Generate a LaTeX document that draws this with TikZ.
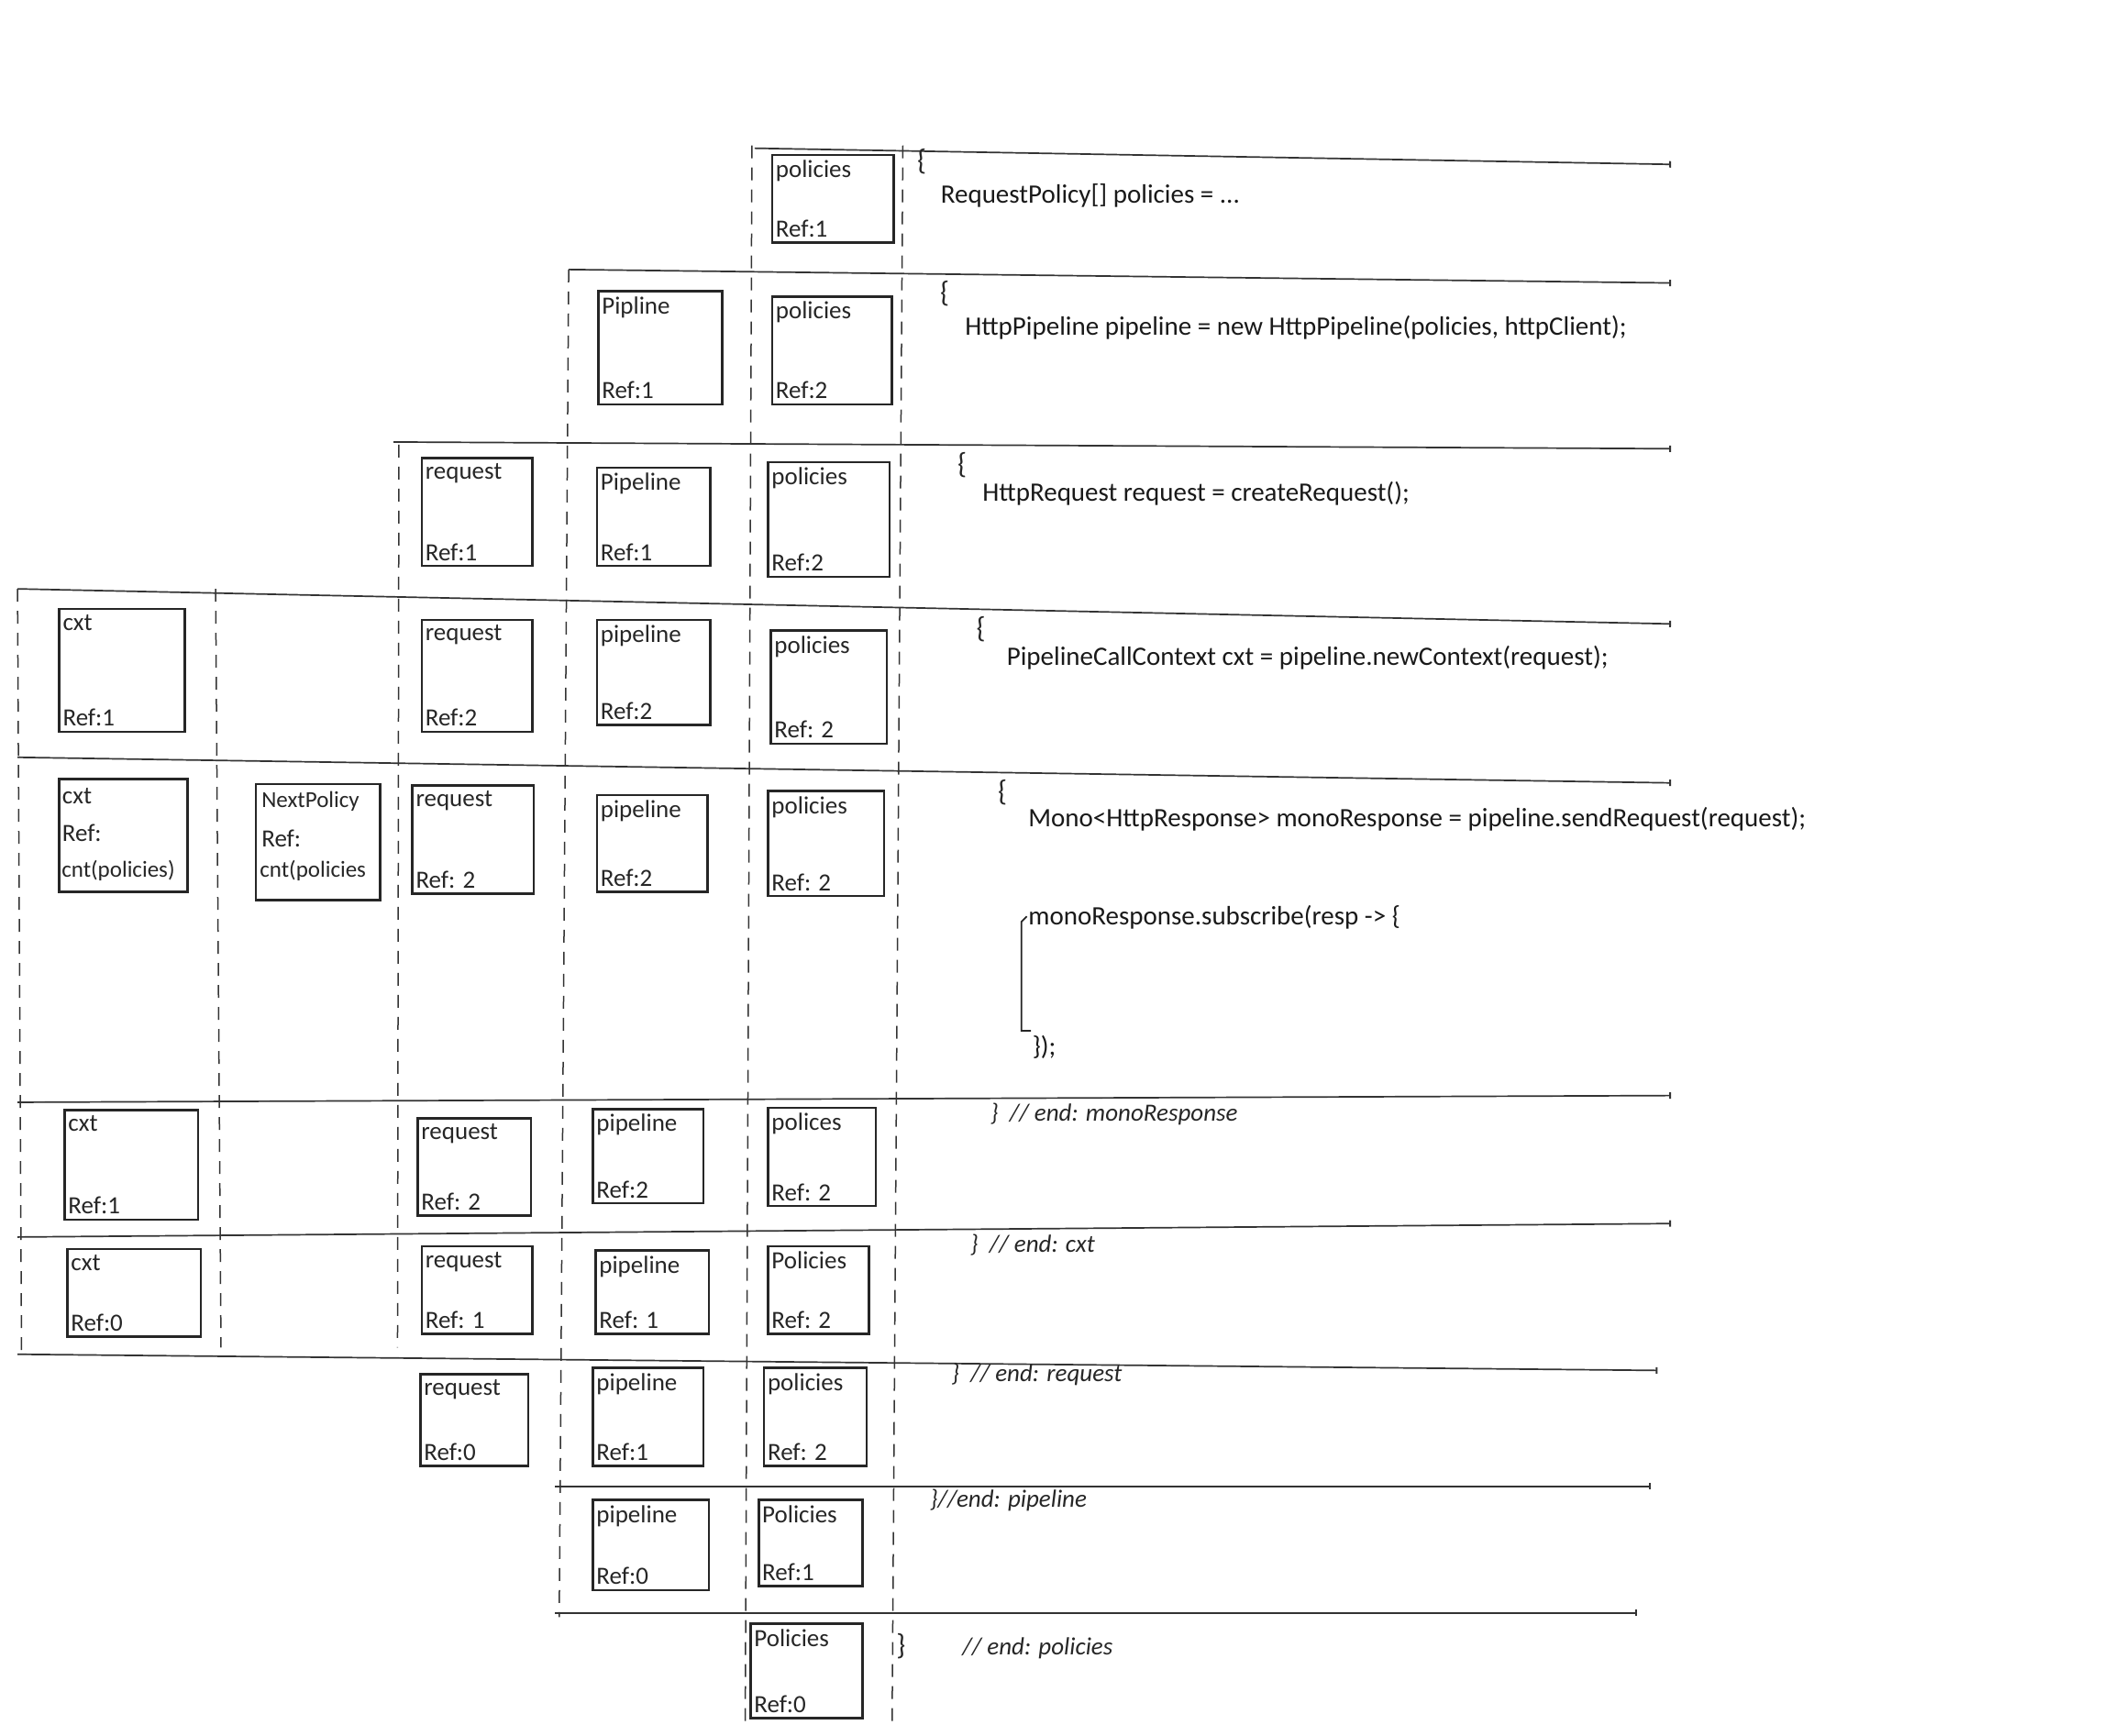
\documentclass[tikz,border=0pt]{standalone}
\usepackage{fontspec}
\setmainfont{Carlito}
\usetikzlibrary{fit,arrows.meta}
\newcommand\membox[7]{%
  \node[mbox, fit={(#2,#3) (#4,#5)}] (#1) {};
  \node[lbl, anchor=north west] (#1t) at (#1.north west) {#6};
  \node[lbl, anchor=south west] (#1b) at (#1.south west) {#7};
}
\begin{document}
\begin{tikzpicture}[x=1.4694pt,y=-1.4694pt,
  mbox/.style={draw=black!85, line width=2.6pt, inner sep=0pt},
  lbl/.style={font=\fontsize{27}{30}\selectfont, inner xsep=5pt, inner ysep=7pt, text=black!85},
  lbl3/.style={font=\fontsize{27}{30}\selectfont, inner sep=3pt, anchor=west, text=black!85},
  code/.style={font=\fontsize{29}{32}\selectfont, anchor=west, inner sep=0pt, text=black!90},
  cmt/.style={font=\itshape\fontsize{27}{30}\selectfont, anchor=west, inner sep=0pt, text=black!85},
  brace/.style={font=\fontsize{32}{34}\selectfont, anchor=center, inner sep=0pt, text=black!85},
  vdash/.style={draw=black!80, line width=1.5pt, dash pattern=on 14pt off 10pt},
  hline/.style={draw=black!80, line width=1.7pt, -{Bar[width=7pt,line width=2pt]}},
]
\useasboundingbox (0,0) rectangle (1568,1288);

% vertical dashed column separators
\coordinate (v1a) at (13,437);  \coordinate (v1b) at (16,1005);
\coordinate (v2a) at (160,437); \coordinate (v2b) at (164,1000);
\coordinate (v3a) at (296,330); \coordinate (v3b) at (295,1000);
\coordinate (v4a) at (422,200); \coordinate (v4b) at (415,1200);
\coordinate (v5a) at (558,108); \coordinate (v5b) at (553,1280);
\coordinate (v6a) at (670,108); \coordinate (v6b) at (662,1280);
\foreach \i in {1,...,6} \draw[vdash] (v\i a) -- (v\i b);

% horizontal scope lines
\coordinate (h1a) at (560,110);  \coordinate (h1b) at (1240,122);
\coordinate (h2a) at (422,200);  \coordinate (h2b) at (1240,210);
\coordinate (h3a) at (292,328);  \coordinate (h3b) at (1240,333);
\coordinate (h4a) at (13,437);   \coordinate (h4b) at (1240,463);
\coordinate (h5a) at (13,562);   \coordinate (h5b) at (1240,581);
\coordinate (h6a) at (13,818);   \coordinate (h6b) at (1240,813);
\coordinate (h7a) at (13,918);   \coordinate (h7b) at (1240,908);
\coordinate (h8a) at (13,1005);  \coordinate (h8b) at (1230,1017);
\coordinate (h9a) at (412,1103); \coordinate (h9b) at (1225,1103);
\coordinate (h10a) at (412,1197);\coordinate (h10b) at (1215,1197);
\foreach \i in {1,...,10} \draw[hline] (h\i a) -- (h\i b);

% row 1
\membox{r1po}{573}{115}{663}{180}{policies}{Ref:1}
% row 2
\membox{r2pi}{444}{216}{536}{300}{Pipline}{Ref:1}
\membox{r2po}{573}{220}{662}{300}{policies}{Ref:2}
% row 3
\membox{r3rq}{313}{340}{395}{420}{request}{Ref:1}
\membox{r3pi}{443}{347}{527}{420}{Pipeline}{Ref:1}
\membox{r3po}{570}{343}{660}{428}{policies}{Ref:2}
% row 4
\membox{r4cx}{44}{452}{137}{543}{cxt}{Ref:1}
\membox{r4rq}{313}{460}{395}{543}{request}{Ref:2}
\membox{r4pi}{443}{460}{527}{538}{pipeline}{Ref:2}
\membox{r4po}{572}{468}{658}{552}{policies}{Ref: 2}
% row 5
\node[mbox, fit={(44,578) (139,662)}] (r5cx) {};
\node[lbl3] (r5cxa) at (44,591) {cxt};
\node[lbl3] (r5cxb) at (44,618) {Ref:};
\node[lbl3, font=\fontsize{25}{28}\selectfont, inner sep=1pt] (r5cxc) at (45,646) {cnt(policies)};
\node[mbox, fit={(190,582) (282,668)}] (r5np) {};
\node[lbl3, font=\fontsize{25}{28}\selectfont] (r5npa) at (192,595) {NextPolicy};
\node[lbl3] (r5npb) at (192,622) {Ref:};
\node[lbl3, font=\fontsize{25}{28}\selectfont, inner sep=1pt] (r5npc) at (192,646) {cnt(policies};
\membox{r5rq}{306}{583}{396}{663}{request}{Ref: 2}
\membox{r5pi}{443}{590}{525}{662}{pipeline}{Ref:2}
\membox{r5po}{570}{587}{656}{665}{policies}{Ref: 2}
% row 6
\membox{r6cx}{48}{824}{147}{905}{cxt}{Ref:1}
\membox{r6rq}{310}{830}{394}{902}{request}{Ref: 2}
\membox{r6pi}{440}{823}{522}{893}{pipeline}{Ref:2}
\membox{r6po}{570}{822}{650}{895}{polices}{Ref: 2}
% row 7
\membox{r7cx}{50}{927}{149}{992}{cxt}{Ref:0}
\membox{r7rq}{313}{925}{395}{990}{request}{Ref: 1}
\membox{r7pi}{442}{928}{526}{990}{pipeline}{Ref: 1}
\membox{r7po}{570}{925}{645}{990}{Policies}{Ref: 2}
% row 8
\membox{r8rq}{312}{1020}{392}{1088}{request}{Ref:0}
\membox{r8pi}{440}{1015}{522}{1088}{pipeline}{Ref:1}
\membox{r8po}{567}{1015}{643}{1088}{policies}{Ref: 2}
% row 9
\membox{r9pi}{440}{1113}{526}{1180}{pipeline}{Ref:0}
\membox{r9po}{563}{1113}{640}{1177}{Policies}{Ref:1}
% row 10
\membox{r10po}{557}{1205}{640}{1275}{Policies}{Ref:0}

% code
\node[brace] (b1) at (684,120) {\{};
\node[code] (c1) at (698,145) {RequestPolicy[] policies = ...};
\node[brace] (b2) at (701,218) {\{};
\node[code] (c2) at (716,243) {HttpPipeline pipeline = new HttpPipeline(policies, httpClient);};
\node[brace] (b3) at (714,345) {\{};
\node[code] (c3) at (729,366) {HttpRequest request = createRequest();};
\node[brace] (b4) at (728,467) {\{};
\node[code] (c4) at (747,488) {PipelineCallContext cxt = pipeline.newContext(request);};
\node[brace] (b5) at (744,588) {\{};
\node[code] (c5) at (763,608) {Mono<HttpResponse> monoResponse = pipeline.sendRequest(request);};
\node[code] (c6) at (763,681) {monoResponse.subscribe(resp -> \{};
\node[code] (c7) at (766,777) {\});};
\coordinate (k1) at (762,680);
\coordinate (k2) at (758,684);
\coordinate (k3) at (758,765);
\coordinate (k4) at (765,765);
\draw[black!85, line width=1.8pt] (k1) -- (k2) -- (k3) -- (k4);

% end comments
\node[cmt] (e1) at (735,827) {\}\ \ // end: monoResponse};
\node[cmt] (e2) at (720,924) {\}\ \ // end: cxt};
\node[cmt] (e3) at (706,1020) {\}\ \ // end: request};
\node[cmt] (e4) at (690,1113) {\}//end: pipeline};
\node[cmt, font=\fontsize{32}{34}\selectfont] (e5a) at (665,1222) {\}};
\node[cmt] (e5b) at (714,1223) {// end: policies};
\end{tikzpicture}
\end{document}
